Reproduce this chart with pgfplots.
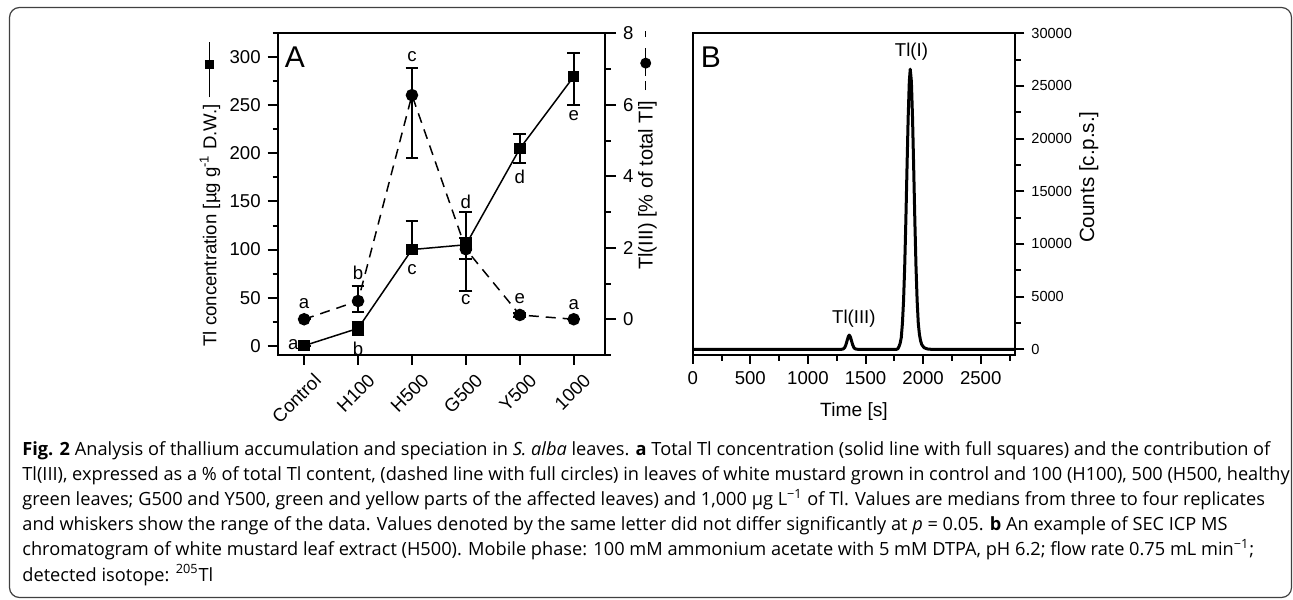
\documentclass[border=0pt]{standalone}
\usepackage{fontspec}
\setmainfont{Liberation Sans}
\newfontfamily\capfont{Open Sans}
\usepackage{pgfplots}
\pgfplotsset{compat=1.18}
\newcommand{\sqsym}{\tikz[baseline={(0,-3.3pt)}]{\draw[line width=0.75pt] (0,0)--(27.5pt,0); \fill (16.5pt,0) +(-2.3pt,-2.3pt) rectangle +(2.3pt,2.3pt);}}
\newcommand{\cisym}{\tikz[baseline={(0,-3.5pt)}]{\draw[line width=0.75pt] (0,0)--(4.5pt,0) (7pt,0)--(21pt,0) (26.5pt,0)--(29.5pt,0); \fill (13.5pt,0) circle (2.75pt);}}
\newcommand{\tfont}{\fontsize{9.3}{11}\selectfont}
\begin{document}
\begin{tikzpicture}
\useasboundingbox (0,0) rectangle (646.5pt,299.5pt);
\draw[line width=0.6pt, draw=black!75, rounded corners=5pt] (4.75pt,0.75pt) rectangle (645.75pt,295.75pt);

% ---------------- Panel A, left axis ----------------
\begin{axis}[
  at={(138.85pt,122pt)}, anchor=south west,
  width=163.65pt, height=160.85pt, scale only axis,
  xmin=-0.49, xmax=5.58, ymin=-9.7, ymax=325,
  xtick={0,1,2,3,4,5}, xticklabels={Control,H100,H500,G500,Y500,1000},
  ytick={0,50,...,300}, minor ytick={25,75,...,325},
  xtick pos=left, ytick pos=left, tick align=outside,
  major tick length=5pt, minor tick length=2.5pt,
  axis line style={line width=1pt},
  every tick/.style={line width=1pt, black},
  tick label style={font=\tfont},
  /pgf/number format/assume math mode=true,
  xticklabel style={rotate=45, anchor=east, xshift=3.9pt, yshift=-9.1pt},
  ylabel={Tl concentration [µg g\textsuperscript{-1} D.W.]\hspace{3pt}\sqsym},
  ylabel style={at={(axis description cs:-0.207,0.5)}, anchor=center, font=\tfont},
  clip=false,
]
\addplot[line width=0.75pt, black, mark=square*, mark size=2.5pt,
  error bars/.cd, y dir=both, y explicit,
  error bar style={line width=1pt, solid},
  error mark options={rotate=90, mark size=3.2pt, line width=1pt}]
  coordinates {
  (0,0) += (0,0) -= (0,0)
  (1,18) += (0,7) -= (0,7)
  (2,100) += (0,30) -= (0,2)
  (3,105) += (0,7) -= (0,15)
  (4,205) += (0,15) -= (0,15)
  (5,280) += (0,25) -= (0,30)
  };
\node[font=\fontsize{15}{15}\selectfont, anchor=center] at (axis cs:-0.17,299.8) {A};
\begin{scope}[every node/.style={font=\tfont, inner sep=0pt, anchor=center}]
\node at (axis cs:-0.2,1) {a};
\node at (axis cs:0,43.4) {a};
\node at (axis cs:1,75.3) {b};
\node at (axis cs:1,-2.8) {b};
\node at (axis cs:2,300.7) {c};
\node at (axis cs:2,79.4) {c};
\node at (axis cs:3,149.8) {d};
\node at (axis cs:3,47.5) {c};
\node at (axis cs:4,175.8) {d};
\node at (axis cs:4,49.3) {e};
\node at (axis cs:5,238.9) {e};
\node at (axis cs:5,42.3) {a};
\end{scope}
\end{axis}

% ---------------- Panel A, right axis ----------------
\begin{axis}[
  at={(138.85pt,122pt)}, anchor=south west,
  width=163.65pt, height=160.85pt, scale only axis,
  xmin=-0.49, xmax=5.58, ymin=-1, ymax=8,
  axis x line=none, axis y line*=right,
  ytick={0,2,4,6,8}, minor ytick={-1,1,3,5,7},
  tick align=outside,
  major tick length=5.5pt, minor tick length=2.8pt,
  axis line style={line width=1pt},
  every tick/.style={line width=1pt, black},
  tick label style={font=\tfont},
  /pgf/number format/assume math mode=true,
  ylabel={Tl(III) [\% of total Tl]\hspace{5pt}\cisym},
  ylabel style={at={(axis description cs:1.13,0.637)}, anchor=center, font=\fontsize{10}{12}\selectfont},
  clip=false,
]
\addplot[line width=0.75pt, black, dash pattern=on 5pt off 3.5pt, mark=*, mark size=2.75pt, mark options={solid},
  error bars/.cd, y dir=both, y explicit,
  error bar style={line width=1pt, solid},
  error mark options={rotate=90, mark size=3.2pt, line width=1pt, solid}]
  coordinates {
  (0,0) += (0,0) -= (0,0)
  (1,0.51) += (0,0.43) -= (0,0.31)
  (2,6.27) += (0,0.75) -= (0,1.77)
  (3,1.96) += (0,1.05) -= (0,1.16)
  (4,0.12) += (0,0.06) -= (0,0.06)
  (5,0) += (0,0) -= (0,0)
  };
\end{axis}

% ---------------- Panel B ----------------
\begin{axis}[
  at={(346.35pt,122pt)}, anchor=south west,
  width=161.3pt, height=160.85pt, scale only axis,
  xmin=0, xmax=2800, ymin=-540, ymax=30000,
  xtick={0,500,...,2500}, minor xtick={250,750,...,2750},
  ytick={0,5000,...,30000}, minor ytick={2500,7500,...,27500},
  xtick pos=left, ytick pos=right, yticklabel pos=right,
  tick align=outside,
  major tick length=4.5pt, minor tick length=2.8pt,
  axis line style={line width=1pt},
  every tick/.style={line width=1pt, black},
  scaled ticks=false,
  /pgf/number format/set thousands separator={},
  /pgf/number format/assume math mode=true,
  xticklabel style={font=\tfont},
  yticklabel style={font=\fontsize{7.3}{9}\selectfont},
  xlabel={Time [s]},
  xlabel style={at={(axis description cs:0.5,-0.176)}, anchor=center, font=\fontsize{9.6}{11}\selectfont},
  ylabel={Counts [c.p.s.]},
  ylabel style={at={(axis description cs:1.228,0.553)}, anchor=center, font=\fontsize{10.3}{12}\selectfont},
  clip=false,
]
\addplot[line width=1.5pt, black, line join=round] coordinates {
 (0,0) (1290,0) (1300,15) (1310,60) (1320,180) (1330,440) (1340,820) (1350,1190) (1358,1350)
 (1368,1190) (1378,820) (1388,440) (1398,180) (1408,60) (1420,15) (1435,0)
 (1770,0) (1780,50) (1790,250) (1800,550) (1810,1100) (1820,2440) (1830,4600) (1840,7880)
 (1850,12230) (1860,17210) (1870,21970) (1880,25430) (1888,26600) (1898,25430) (1908,21970)
 (1918,17210) (1928,12230) (1938,7880) (1948,4600) (1958,2440) (1968,1400) (1978,800)
 (1988,450) (2008,150) (2038,30) (2070,0) (2800,0)
};
\node[font=\fontsize{15}{15}\selectfont, anchor=center] at (axis cs:157,27700) {B};
\node[font=\tfont, anchor=center] at (axis cs:1899,28250) {Tl(I)};
\node[font=\tfont, anchor=center] at (axis cs:1399,2943) {Tl(III)};
\end{axis}

% ---------------- Caption ----------------
\begin{scope}[every node/.style={anchor=base west, inner sep=0pt, font=\capfont\fontsize{9.1}{10}\selectfont}]
\node at (11pt,71.75pt) {\textbf{Fig. 2} Analysis of thallium accumulation and speciation in \textit{S. alba} leaves. \textbf{a} Total Tl concentration (solid line with full squares) and the contribution of};
\node at (11pt,59.2pt) {Tl(III), expressed as a \% of total Tl content, (dashed line with full circles) in leaves of white mustard grown in control and 100 (H100), 500 (H500, healthy};
\node at (11pt,46.65pt) {green leaves; G500 and Y500, green and yellow parts of the affected leaves) and 1,000 µg L\textsuperscript{−1} of Tl. Values are medians from three to four replicates};
\node at (11pt,34.1pt) {and whiskers show the range of the data. Values denoted by the same letter did not differ significantly at \textit{p} = 0.05. \textbf{b} An example of SEC ICP MS};
\node at (11pt,21.55pt) {chromatogram of white mustard leaf extract (H500). Mobile phase: 100 mM ammonium acetate with 5 mM DTPA, pH 6.2; flow rate 0.75 mL min\textsuperscript{−1};};
\node at (11pt,9pt) {detected isotope: \textsuperscript{205}Tl};
\end{scope}
\end{tikzpicture}
\end{document}
